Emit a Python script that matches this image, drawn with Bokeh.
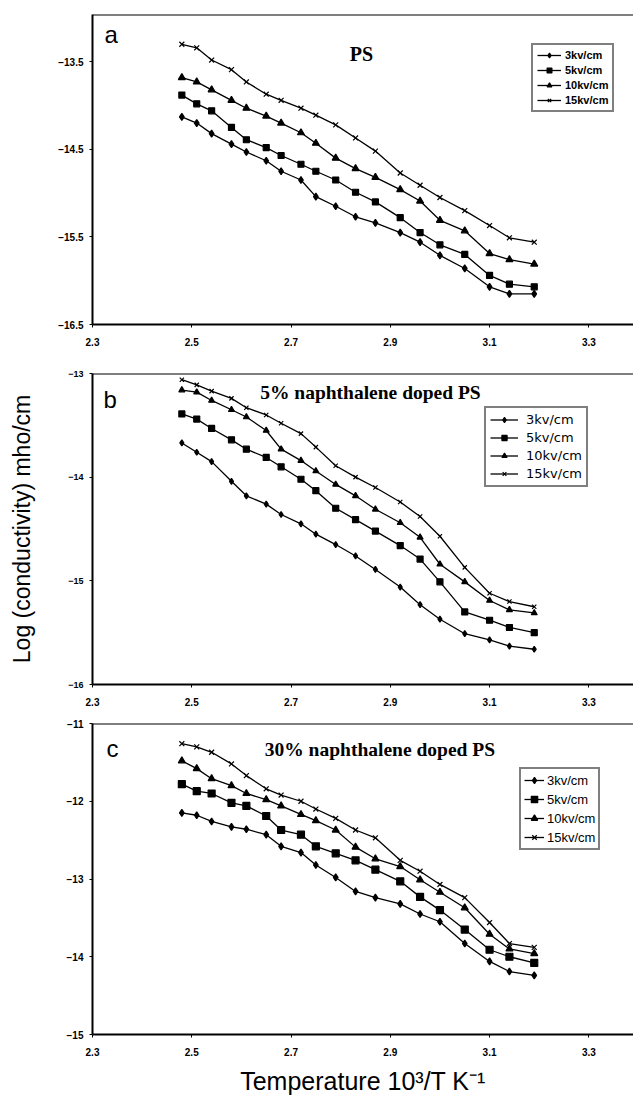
from bokeh.plotting import figure
from bokeh.layouts import column
from bokeh.models import Range1d, FixedTicker, Legend, LegendItem, Label, Span
from bokeh.embed import file_html
from bokeh.resources import INLINE

# 10^3/T values (K^-1)
x_inv_T = [2.48, 2.51, 2.54, 2.58, 2.61, 2.65, 2.68, 2.72, 2.75, 2.79,
           2.83, 2.87, 2.92, 2.96, 3.00, 3.05, 3.10, 3.14, 3.19]

series_labels = ["3kv/cm", "5kv/cm", "10kv/cm", "15kv/cm"]
x_ticks = [2.3, 2.5, 2.7, 2.9, 3.1, 3.3]

# Panel a: PS
a_3kv = [-14.13, -14.20, -14.32, -14.44, -14.53, -14.63, -14.75, -14.85, -15.04, -15.15,
         -15.27, -15.34, -15.45, -15.56, -15.71, -15.86, -16.07, -16.15, -16.15]
a_5kv = [-13.88, -13.98, -14.06, -14.25, -14.39, -14.48, -14.57, -14.67, -14.75, -14.85,
         -14.99, -15.10, -15.28, -15.45, -15.59, -15.70, -15.94, -16.04, -16.07]
a_10kv = [-13.68, -13.73, -13.82, -13.94, -14.03, -14.12, -14.20, -14.31, -14.43, -14.60,
          -14.72, -14.82, -14.96, -15.09, -15.31, -15.43, -15.69, -15.76, -15.81]
a_15kv = [-13.30, -13.34, -13.48, -13.59, -13.73, -13.87, -13.94, -14.03, -14.11, -14.22,
          -14.37, -14.52, -14.77, -14.91, -15.05, -15.20, -15.37, -15.51, -15.56]
a_y_ticks = [-16.5, -15.5, -14.5, -13.5]

# Panel b: 5% naphthalene doped PS
b_3kv = [-13.67, -13.76, -13.85, -14.04, -14.18, -14.26, -14.36, -14.45, -14.55, -14.65,
         -14.76, -14.89, -15.06, -15.23, -15.37, -15.51, -15.57, -15.63, -15.66]
b_5kv = [-13.39, -13.44, -13.53, -13.64, -13.73, -13.81, -13.90, -14.02, -14.13, -14.30,
         -14.41, -14.52, -14.66, -14.79, -15.01, -15.30, -15.38, -15.45, -15.50]
b_10kv = [-13.16, -13.18, -13.26, -13.35, -13.42, -13.55, -13.73, -13.84, -13.94, -14.07,
          -14.18, -14.31, -14.44, -14.58, -14.84, -15.01, -15.19, -15.28, -15.31]
b_15kv = [-13.06, -13.11, -13.17, -13.24, -13.33, -13.40, -13.48, -13.58, -13.71, -13.89,
          -14.00, -14.10, -14.24, -14.38, -14.57, -14.87, -15.12, -15.20, -15.25]
b_y_ticks = [-16, -15, -14, -13]

# Panel c: 30% naphthalene doped PS
c_3kv = [-12.15, -12.18, -12.26, -12.33, -12.36, -12.43, -12.58, -12.66, -12.82, -12.98,
         -13.16, -13.24, -13.32, -13.45, -13.55, -13.83, -14.06, -14.19, -14.24]
c_5kv = [-11.78, -11.87, -11.90, -12.02, -12.06, -12.19, -12.37, -12.43, -12.58, -12.67,
         -12.76, -12.88, -13.03, -13.23, -13.40, -13.65, -13.91, -14.00, -14.08]
c_10kv = [-11.48, -11.58, -11.71, -11.80, -11.90, -11.98, -12.06, -12.17, -12.25, -12.37,
          -12.59, -12.74, -12.84, -13.01, -13.17, -13.37, -13.71, -13.90, -13.96]
c_15kv = [-11.26, -11.30, -11.37, -11.52, -11.67, -11.84, -11.92, -12.00, -12.10, -12.22,
          -12.37, -12.47, -12.76, -12.90, -13.07, -13.24, -13.56, -13.83, -13.88]
c_y_ticks = [-15, -14, -13, -12, -11]

markers = ["diamond", "square", "triangle", "x"]


def make_panel(height, border_top, border_bottom, border_left, y_range, y_ticks, series,
               marker_sizes, letter, letter_pos, title, title_pos, title_size,
               legend_loc, legend_style, ytick_size="10px"):
    p = figure(width=633, height=height, output_backend="svg", toolbar_location=None,
               x_range=Range1d(2.3, 3.39), y_range=Range1d(*y_range),
               min_border_top=border_top, min_border_bottom=border_bottom,
               min_border_left=border_left, min_border_right=0)
    p.outline_line_color = None
    p.xgrid.visible = False
    p.ygrid.visible = False
    p.background_fill_color = "white"
    p.border_fill_color = "white"

    for ax, ticks in ((p.xaxis[0], x_ticks), (p.yaxis[0], y_ticks)):
        ax.ticker = FixedTicker(ticks=ticks)
        ax.axis_line_width = 2
        ax.axis_line_color = "black"
        ax.major_tick_out = 3
        ax.major_tick_in = 0
        ax.minor_tick_out = 0
        ax.minor_tick_in = 0
        ax.major_tick_line_color = "black"
        ax.major_label_text_font = "Liberation Sans"
        ax.major_label_text_font_style = "bold"
        ax.major_label_text_color = "black"
    p.xaxis.major_label_text_font_size = "10px"
    p.yaxis.major_label_text_font_size = ytick_size
    p.xaxis.major_label_standoff = 10
    p.yaxis.major_label_standoff = 6

    # top border of the plot frame
    p.add_layout(Span(location=y_range[1], dimension="width", line_color="black",
                      line_width=2))

    items = []
    for lbl, ys, mk, ms in zip(series_labels, series, markers, marker_sizes):
        ln = p.line(x_inv_T, ys, line_color="black", line_width=1.3)
        sc = p.scatter(x_inv_T, ys, marker=mk, size=ms, fill_color="black",
                       line_color="black", line_width=1.2)
        items.append(LegendItem(label=lbl, renderers=[ln, sc]))

    legend = Legend(items=items, location=legend_loc, **legend_style)
    legend.border_line_color = "black"
    legend.border_line_width = 2
    legend.background_fill_color = "white"
    legend.background_fill_alpha = 1
    legend.margin = 0
    legend.label_text_color = "black"
    p.add_layout(legend)

    p.add_layout(Label(x=letter_pos[0], y=letter_pos[1], text=letter,
                       text_font="Liberation Sans", text_font_size="24px",
                       text_color="black", text_align="left", text_baseline="alphabetic"))
    p.add_layout(Label(x=title_pos[0], y=title_pos[1], text=title,
                       text_font="Liberation Serif", text_font_size=title_size,
                       text_font_style="bold", text_color="black",
                       text_align="center", text_baseline="alphabetic"))
    return p


pa = make_panel(355, 14, 31, 92, (-16.5, -12.96), a_y_ticks,
                [a_3kv, a_5kv, a_10kv, a_15kv], [7, 6, 7, 7],
                "a", (2.324, -13.19), "PS", (2.842, -13.41), "20px",
                (439, 212),
                dict(label_text_font="Liberation Sans", label_text_font_size="11px",
                     label_text_font_style="bold", glyph_width=24, glyph_height=12,
                     label_height=12, label_standoff=4, padding=4, spacing=3))

pb = make_panel(357, 18, 28, 90, (-16, -13), b_y_ticks,
                [b_3kv, b_5kv, b_10kv, b_15kv], [6, 6, 6, 6],
                "b", (2.322, -13.25), "5% naphthalene doped PS", (2.860, -13.185), "19.5px",
                (392, 197),
                dict(label_text_font="DejaVu Sans", label_text_font_size="13px",
                     glyph_width=28, glyph_height=13,
                     label_height=13, label_standoff=8, padding=4, spacing=3),
                ytick_size="9px")
pb.yaxis[0].axis_label = "Log (conductivity) mho/cm"
pb.yaxis[0].axis_label_text_font = "Liberation Sans"
pb.yaxis[0].axis_label_text_font_size = "23px"
pb.yaxis[0].axis_label_text_font_style = "normal"
pb.yaxis[0].axis_label_text_color = "black"
pb.yaxis[0].axis_label_standoff = 30

pc = make_panel(385, 11, 60, 87, (-15, -11), c_y_ticks,
                [c_3kv, c_5kv, c_10kv, c_15kv], [7, 7, 7, 7],
                "c", (2.328, -11.32), "30% naphthalene doped PS", (2.879, -11.33), "19.5px",
                (427, 184),
                dict(label_text_font="Liberation Sans", label_text_font_size="13px",
                     glyph_width=20, glyph_height=16,
                     label_height=16, label_standoff=3, padding=3, spacing=3))
pc.xaxis[0].axis_label = "Temperature 10³/T K⁻¹"
pc.xaxis[0].axis_label_text_font = "Liberation Sans"
pc.xaxis[0].axis_label_text_font_size = "25px"
pc.xaxis[0].axis_label_text_font_style = "normal"
pc.xaxis[0].axis_label_text_color = "black"
pc.xaxis[0].axis_label_standoff = 8

layout = column(pa, pb, pc, spacing=0)
open("out.html", "w").write(file_html(layout, INLINE))
